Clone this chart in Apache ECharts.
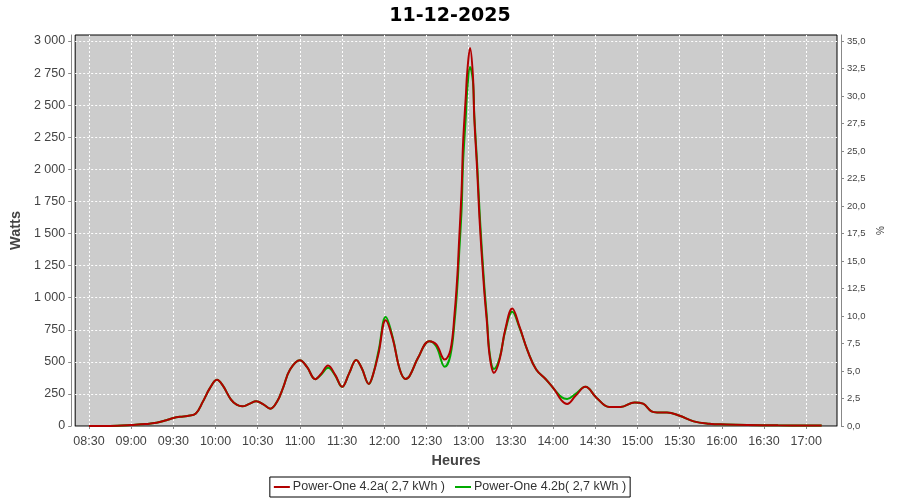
<!DOCTYPE html>
<html>
<head>
<meta charset="utf-8">
<script src="https://cdn.jsdelivr.net/npm/echarts@6/dist/echarts.min.js"></script>
<style>html,body{margin:0;padding:0;background:#fff}#c{width:900px;height:500px}</style>
</head>
<body>
<div id="c"></div>
<script>
const titleText = '11-12-2025';
const seriesNames = ['Power-One 4.2a( 2,7 kWh )', 'Power-One 4.2b( 2,7 kWh )'];
const times = ['08:30','08:40','08:50','09:00','09:10','09:18','09:25','09:30','09:35','09:40','09:46','09:51','09:56','10:01','10:05','10:11','10:15','10:19','10:24','10:29','10:34','10:39','10:44','10:48','10:53','11:00','11:05','11:11','11:15','11:20','11:25','11:30','11:35','11:40','11:44','11:49','11:52','11:56','12:01','12:06','12:11','12:15','12:18','12:24','12:32','12:37','12:43','12:47','12:50','12:52','12:53','12:55','12:56','12:58','12:59','13:01','13:03','13:04','13:06','13:08','13:11','13:13','13:15','13:18','13:22','13:26','13:31','13:36','13:42','13:48','13:55','14:01','14:06','14:10','14:16','14:23','14:31','14:40','14:48','14:58','15:04','15:10','15:14','15:21','15:30','15:40','15:51','16:03','16:18','16:40','17:11'];
const powerA = [0,0,2,8,15,25,45,62,72,78,98,190,295,360,318,205,166,153,172,192,168,135,195,297,440,513,460,365,405,471,400,305,410,515,450,328,400,570,825,680,440,367,390,531,661,635,518,590,880,1180,1400,1846,2200,2575,2760,2945,2731,2400,2003,1560,1065,805,540,414,518,752,916,778,583,440,362,284,200,172,235,305,219,148,148,184,174,114,106,106,80,36,18,12,8,5,4];
const powerB = [0,0,2,8,15,25,45,62,72,78,98,190,295,360,318,205,166,153,172,192,168,135,195,297,440,513,460,365,400,453,395,305,410,515,450,328,400,590,849,690,440,367,390,531,661,620,461,550,820,1100,1300,1700,2050,2420,2620,2797,2690,2420,2050,1620,1110,840,560,445,530,740,890,770,583,440,362,284,225,211,250,305,219,148,148,184,174,114,106,106,80,36,18,12,8,5,4];
const xTickLabels = ['08:30','09:00','09:30','10:00','10:30','11:00','11:30','12:00','12:30','13:00','13:30','14:00','14:30','15:00','15:30','16:00','16:30','17:00'];
const wattTicks = [0,250,500,750,1000,1250,1500,1750,2000,2250,2500,2750,3000];
const pctTicks = [0,2.5,5,7.5,10,12.5,15,17.5,20,22.5,25,27.5,30,32.5,35];

function toMin(s){const p=s.split(':');return (+p[0])*60+(+p[1]);}
function fmtMin(m){const h=Math.floor(m/60),mm=Math.round(m-h*60);return (h<10?'0':'')+h+':'+(mm<10?'0':'')+mm;}
function fmtW(v){const s=String(Math.round(v));return s.length>3?s.slice(0,s.length-3)+' '+s.slice(-3):s;}
const xTickVals = xTickLabels.map(toMin);
const dataA = times.map((t,i)=>[toMin(t),powerA[i]]);
const dataB = times.map((t,i)=>[toMin(t),powerB[i]]);

const FONT='Liberation Sans';
const chart = echarts.init(document.getElementById('c'),null,{renderer:'canvas'});
chart.setOption({
  animation:false,
  backgroundColor:'#ffffff',
  title:{text:titleText,left:'center',top:2,textStyle:{fontFamily:'DejaVu Sans',fontWeight:'bold',fontSize:19,color:'#000'}},
  grid:{left:75,right:63,top:35,bottom:74,show:true,backgroundColor:'#cccccc',borderColor:'#000',borderWidth:1},
  legend:{data:seriesNames,bottom:3,left:'center',icon:'rect',itemWidth:16,itemHeight:2,itemGap:10,
    borderColor:'#000',borderWidth:1,padding:[3,4,3,4],
    textStyle:{fontFamily:FONT,fontSize:12.5,color:'#333',lineHeight:14,padding:[0,0,0,-2]}},
  xAxis:{type:'value',min:500.2,max:1041.9,offset:4,
    name:'Heures',nameLocation:'middle',nameGap:23,
    nameTextStyle:{fontFamily:FONT,fontWeight:'bold',fontSize:14.5,color:'#444'},
    axisLine:{show:true,lineStyle:{color:'#888'}},
    axisTick:{show:true,length:3,customValues:xTickVals,lineStyle:{color:'#888'}},
    axisLabel:{customValues:xTickVals,formatter:fmtMin,fontFamily:FONT,fontSize:12.5,color:'#444',margin:5},
    splitLine:{show:true,lineStyle:{color:'#ffffff',type:[2,2],width:1}}},
  yAxis:[
    {type:'value',min:0,max:3047,offset:4,position:'left',
     name:'Watts',nameLocation:'middle',nameGap:44,nameRotate:90,
     nameTextStyle:{fontFamily:FONT,fontWeight:'bold',fontSize:14.5,color:'#444'},
     axisLine:{show:true,lineStyle:{color:'#888'}},
     axisTick:{show:true,length:3,customValues:wattTicks,lineStyle:{color:'#888'}},
     axisLabel:{customValues:wattTicks,formatter:fmtW,fontFamily:FONT,fontSize:12.5,color:'#444',margin:6},
     splitLine:{show:true,lineStyle:{color:'#ffffff',type:[2,2],width:1}}},
    {type:'value',min:0,max:35.55,offset:4,position:'right',
     name:'%',nameLocation:'middle',nameGap:35,nameRotate:90,
     nameTextStyle:{fontFamily:FONT,fontSize:10,color:'#444'},
     axisLine:{show:true,lineStyle:{color:'#888'}},
     axisTick:{show:true,length:3,customValues:pctTicks,lineStyle:{color:'#888'}},
     axisLabel:{customValues:pctTicks,formatter:v=>v.toFixed(1).replace('.',','),fontFamily:FONT,fontSize:9.5,color:'#444',margin:6},
     splitLine:{show:false}}
  ],
  series:[
    {name:seriesNames[1],type:'line',data:dataB,smooth:0.4,showSymbol:false,z:2,
     lineStyle:{color:'#00aa00',width:2},itemStyle:{color:'#00aa00'}},
    {name:seriesNames[0],type:'line',data:dataA,smooth:0.4,showSymbol:false,z:3,
     lineStyle:{color:'#b20000',width:2},itemStyle:{color:'#b20000'}}
  ]
});
</script>
</body>
</html>
